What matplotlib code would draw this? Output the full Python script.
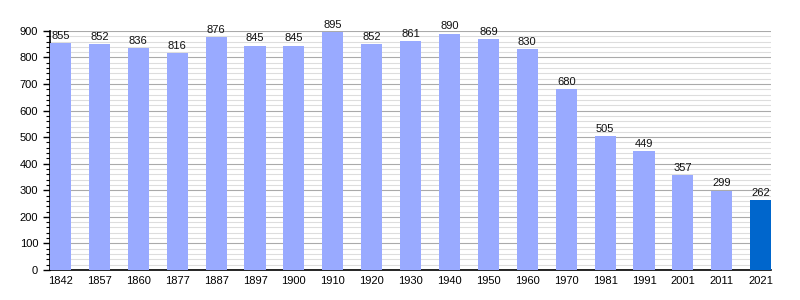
import matplotlib
matplotlib.use("Agg")
import matplotlib.pyplot as plt
from matplotlib.ticker import MultipleLocator

plt.rcParams["font.family"] = ["Liberation Sans", "DejaVu Sans"]

years = ["1842", "1857", "1860", "1877", "1887", "1897", "1900", "1910", "1920", "1930",
         "1940", "1950", "1960", "1970", "1981", "1991", "2001", "2011", "2021"]
population = [855, 852, 836, 816, 876, 845, 845, 895, 852, 861,
              890, 869, 830, 680, 505, 449, 357, 299, 262]

fig = plt.figure(figsize=(8, 3), dpi=100)
ax = fig.add_axes([0.0625, 0.1, 0.9015, 0.797])

x = list(range(len(years)))
colors = ["#99aaff"] * (len(years) - 1) + ["#0066cc"]
ax.bar(x, population, width=0.54, color=colors, zorder=3)

for xi, v in zip(x, population):
    ax.text(xi, v + 8, str(v), ha="center", va="bottom", fontsize=8, color="#111111", zorder=4)

ax.set_xlim(-0.27, len(years) - 1 + 0.27)
ax.set_ylim(0, 900)
ax.set_xticks(x)
ax.set_xticklabels(years, fontsize=8)
ax.yaxis.set_major_locator(MultipleLocator(100))
ax.yaxis.set_minor_locator(MultipleLocator(20))
ax.tick_params(axis="y", labelsize=8, length=5, width=1)
ax.tick_params(axis="y", which="minor", length=3, width=0.8)
ax.tick_params(axis="x", length=0, pad=4)
ax.grid(axis="y", which="major", color="#aaaaaa", linewidth=0.8, zorder=0)
ax.grid(axis="y", which="minor", color="#dddddd", linewidth=0.8, zorder=0)

for s in ["top", "right"]:
    ax.spines[s].set_visible(False)
ax.spines["left"].set_linewidth(1.2)
ax.spines["bottom"].set_linewidth(1.2)

fig.savefig("out.png", dpi=100)
